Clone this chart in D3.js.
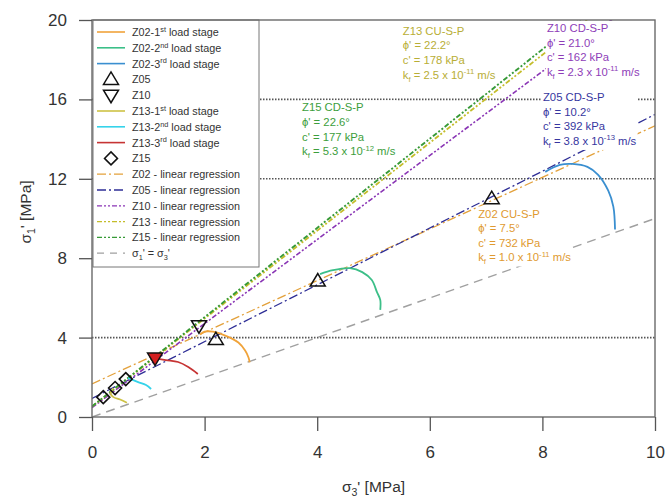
<!DOCTYPE html>
<html>
<head>
<meta charset="utf-8">
<script src="https://cdn.jsdelivr.net/npm/d3@7"></script>
<style>
  body { margin: 0; background: #fff; }
  text { font-family: Arial, "Liberation Sans", sans-serif; }
</style>
</head>
<body>
<script>
var xTicks = [0, 2, 4, 6, 8, 10];
var yTicks = [0, 4, 8, 12, 16, 20];
var gridY = [4, 12, 16];

// stress paths, [sigma3', sigma1'] in MPa
var z02Stage1 = [[1.92, 4.15], [2.0, 4.3], [2.15, 4.3], [2.3, 4.18], [2.45, 4.0], [2.6, 3.75], [2.72, 3.35], [2.78, 3.0], [2.8, 2.75]];
var z02Stage2 = [[4.05, 7.2], [4.28, 7.4], [4.58, 7.5], [4.8, 7.3], [4.97, 6.9], [5.06, 6.3], [5.12, 5.9], [5.12, 5.4]];
var z02Stage3 = [[8.05, 12.35], [8.31, 12.7], [8.53, 12.75], [8.8, 12.6], [8.99, 12.2], [9.17, 11.4], [9.26, 10.6], [9.29, 9.45]];
var z13Stage1 = [[0.38, 1.45], [0.33, 1.2], [0.38, 1.0], [0.5, 0.88], [0.62, 0.72]];
var z13Stage2 = [[0.64, 1.96], [0.82, 1.76], [0.96, 1.61], [1.05, 1.41]];
var z13Stage3 = [[1.12, 2.97], [1.31, 2.87], [1.53, 2.77], [1.71, 2.52], [1.88, 2.17]];

var z05Points = [[2.2, 3.9], [4.01, 6.85], [7.1, 11.0]];
var z10Points = [[1.12, 2.97], [1.9, 4.6]];
var z15Points = [[0.2, 1.0], [0.41, 1.46], [0.6, 1.91]];

// Mohr-Coulomb fits
var fitNames = ["Z02", "Z05", "Z10", "Z13", "Z15"];
var fitTest = ["CU-S-P", "CD-S-P", "CD-S-P", "CU-S-P", "CD-S-P"];
var fitPhi = [7.5, 10.2, 21.0, 22.2, 22.6];
var fitC = [732, 392, 162, 178, 177];
var fitK = ["1.0", "3.8", "2.3", "2.5", "5.3"];
var fitKExp = ["-11", "-13", "-11", "-11", "-12"];

function init() {
  var w = 667, h = 498;
  var fitColor = ["#e3a13b", "#2e2e96", "#8a35b5", "#c4bd2a", "#379a37"];
  var fitText = ["#e09a30", "#3636a0", "#8e3db8", "#b8ae35", "#3c9e3c"];
  var fitDash = ["9,3,2,3", "9,3,2,3", "5,2,2,2,2,2", "5,2,2,2,2,2", "5,2,2,2,2,2"];
  var fitWidth = [1.3, 1.3, 1.6, 1.8, 1.9];
  // label anchor (sigma3, sigma1 of first baseline)
  var labelAt = [[6.86, 10.05], [8.01, 15.92], [8.08, 19.4], [5.52, 19.25], [3.73, 15.4]];

  var xScale = d3.scaleLinear().domain([0, 10]).range([92, 655]);
  var yScale = d3.scaleLinear().domain([0, 20]).range([417, 20]);

  var svg = d3.select("body").append("svg")
    .attr("width", w)
    .attr("height", h);

  svg.append("clipPath").attr("id", "plot")
    .append("rect")
    .attr("x", xScale(0)).attr("y", yScale(20))
    .attr("width", xScale(10) - xScale(0))
    .attr("height", yScale(0) - yScale(20));

  var plot = svg.append("g").attr("clip-path", "url(#plot)");

  // dotted grid lines
  plot.selectAll("line.grid")
    .data(gridY)
    .enter()
    .append("line")
    .attr("class", "grid")
    .attr("x1", xScale(0)).attr("x2", xScale(10))
    .attr("y1", function(d) { return yScale(d); })
    .attr("y2", function(d) { return yScale(d); })
    .attr("stroke", "#555")
    .attr("stroke-width", 1.6)
    .attr("stroke-dasharray", "1.5,1.5");

  // sigma1 = sigma3
  plot.append("line")
    .attr("x1", xScale(0)).attr("y1", yScale(0))
    .attr("x2", xScale(10)).attr("y2", yScale(10))
    .attr("stroke", "#a0a0a0")
    .attr("stroke-width", 1.4)
    .attr("stroke-dasharray", "9,6");

  // regression lines
  fitNames.forEach(function(n, i) {
    var s = Math.sin(fitPhi[i] * Math.PI / 180);
    var co = Math.cos(fitPhi[i] * Math.PI / 180);
    var slope = (1 + s) / (1 - s);
    var icpt = 2 * fitC[i] / 1000 * co / (1 - s);
    plot.append("line")
      .attr("x1", xScale(0)).attr("y1", yScale(icpt))
      .attr("x2", xScale(10)).attr("y2", yScale(icpt + slope * 10))
      .attr("stroke", fitColor[i])
      .attr("stroke-width", fitWidth[i])
      .attr("stroke-dasharray", fitDash[i]);
  });

  var line = d3.line()
    .curve(d3.curveCatmullRom)
    .x(function(d) { return xScale(d[0]); })
    .y(function(d) { return yScale(d[1]); });

  var stages = [
    { d: z02Stage1, c: "#f0a33a" },
    { d: z02Stage2, c: "#3cbf88" },
    { d: z02Stage3, c: "#3a8fd0" },
    { d: z13Stage1, c: "#cdc245" },
    { d: z13Stage2, c: "#35d3ea" },
    { d: z13Stage3, c: "#c63434" }
  ];
  stages.forEach(function(st) {
    plot.append("path")
      .attr("d", line(st.d))
      .attr("fill", "none")
      .attr("stroke", st.c)
      .attr("stroke-width", 1.8);
  });

  function triUp(cx, cy) {
    return "M" + (cx - 7.5) + "," + (cy + 5) + "L" + (cx + 7.5) + "," + (cy + 5) + "L" + cx + "," + (cy - 7.5) + "Z";
  }
  function triDown(cx, cy) {
    return "M" + (cx - 7.5) + "," + (cy - 5) + "L" + (cx + 7.5) + "," + (cy - 5) + "L" + cx + "," + (cy + 7.5) + "Z";
  }
  function diamond(cx, cy) {
    return "M" + cx + "," + (cy - 6.5) + "L" + (cx + 6.5) + "," + cy + "L" + cx + "," + (cy + 6.5) + "L" + (cx - 6.5) + "," + cy + "Z";
  }

  plot.selectAll("path.z05")
    .data(z05Points).enter().append("path")
    .attr("d", function(d) { return triUp(xScale(d[0]), yScale(d[1])); })
    .attr("fill", "none").attr("stroke", "#111").attr("stroke-width", 1.5);

  plot.selectAll("path.z10")
    .data(z10Points).enter().append("path")
    .attr("d", function(d) { return triDown(xScale(d[0]), yScale(d[1])); })
    .attr("fill", function(d) {
      // red stage 3 path starts on this point
      return (d[0] === z13Stage3[0][0] && d[1] === z13Stage3[0][1]) ? "#d42020" : "none";
    })
    .attr("stroke", "#111").attr("stroke-width", 1.5);

  plot.selectAll("path.z15")
    .data(z15Points).enter().append("path")
    .attr("d", function(d) { return diamond(xScale(d[0]), yScale(d[1])); })
    .attr("fill", "none").attr("stroke", "#111").attr("stroke-width", 1.6);

  // rich text helper: parts = [[string, "sup"|"sub"|""]]
  function rich(t, parts, fs) {
    var prev = "";
    parts.forEach(function(p) {
      var ts = t.append("tspan").text(p[0]);
      var dy = 0;
      if (p[1] === "sup") { dy = (prev === "sup" ? 0 : -0.38 * fs); ts.attr("font-size", fs * 0.68); }
      else if (p[1] === "sub") { dy = (prev === "sub" ? 0 : 0.28 * fs); ts.attr("font-size", fs * 0.68); }
      if (prev === "sup" && p[1] !== "sup") dy += 0.38 * fs;
      if (prev === "sub" && p[1] !== "sub") dy -= 0.28 * fs;
      if (dy) ts.attr("dy", dy);
      prev = p[1];
    });
  }

  // fit labels
  var lh = 14.6, lfs = 11.3;
  fitNames.forEach(function(n, i) {
    var g = svg.append("g");
    var x0 = xScale(labelAt[i][0]), y0 = yScale(labelAt[i][1]);
    var rows = [
      [[n + " " + fitTest[i], ""]],
      [["\u03d5' = " + fitPhi[i].toFixed(1) + "\u00b0", ""]],
      [["c' = " + fitC[i] + " kPa", ""]],
      [["k", ""], ["f", "sub"], [" = " + fitK[i] + " x 10", ""], [fitKExp[i], "sup"], [" m/s", ""]]
    ];
    var bg = g.append("rect").attr("fill", "#fff");
    var tg = g.append("g");
    rows.forEach(function(r, j) {
      var t = tg.append("text")
        .attr("x", x0).attr("y", y0 + j * lh)
        .attr("font-size", lfs)
        .attr("fill", fitText[i]);
      rich(t, r, lfs);
    });
    var bb = tg.node().getBBox();
    bg.attr("x", bb.x - 1).attr("y", bb.y - 1)
      .attr("width", bb.width + 2).attr("height", bb.height + 1);
  });

  // legend
  var lx = 93, ly = 20, rowH = 15.8, fs = 10.8;
  svg.append("rect")
    .attr("x", lx).attr("y", ly)
    .attr("width", 166).attr("height", 247)
    .attr("fill", "#fff").attr("stroke", "#777").attr("stroke-width", 1);

  var legend = [
    { t: [["Z02-1", ""], ["st", "sup"], [" load stage", ""]], k: "line", c: "#f0a33a" },
    { t: [["Z02-2", ""], ["nd", "sup"], [" load stage", ""]], k: "line", c: "#3cbf88" },
    { t: [["Z02-3", ""], ["rd", "sup"], [" load stage", ""]], k: "line", c: "#3a8fd0" },
    { t: [["Z05", ""]], k: "up" },
    { t: [["Z10", ""]], k: "down" },
    { t: [["Z13-1", ""], ["st", "sup"], [" load stage", ""]], k: "line", c: "#cdc245" },
    { t: [["Z13-2", ""], ["nd", "sup"], [" load stage", ""]], k: "line", c: "#35d3ea" },
    { t: [["Z13-3", ""], ["rd", "sup"], [" load stage", ""]], k: "line", c: "#c63434" },
    { t: [["Z15", ""]], k: "dia" }
  ];
  fitNames.forEach(function(n, i) {
    legend.push({ t: [[n + " - linear regression", ""]], k: "fit", i: i });
  });
  legend.push({ t: [["\u03c3", ""], ["1", "sub"], ["' = \u03c3", ""], ["3", "sub"], ["'", ""]], k: "eq" });

  legend.forEach(function(e, i) {
    var cy = ly + 12 + i * rowH;
    if (e.k === "line") {
      svg.append("line").attr("x1", 97).attr("x2", 125).attr("y1", cy).attr("y2", cy)
        .attr("stroke", e.c).attr("stroke-width", 1.6);
    } else if (e.k === "fit") {
      svg.append("line").attr("x1", 97).attr("x2", 125).attr("y1", cy).attr("y2", cy)
        .attr("stroke", fitColor[e.i]).attr("stroke-width", 1.3)
        .attr("stroke-dasharray", fitDash[e.i]);
    } else if (e.k === "eq") {
      svg.append("line").attr("x1", 97).attr("x2", 125).attr("y1", cy).attr("y2", cy)
        .attr("stroke", "#a0a0a0").attr("stroke-width", 1.3).attr("stroke-dasharray", "7,6");
    } else {
      var p = e.k === "up" ? triUp(111, cy) : (e.k === "down" ? triDown(111, cy) : diamond(111, cy));
      svg.append("path").attr("d", p).attr("fill", "none").attr("stroke", "#111").attr("stroke-width", 1.5);
    }
    var t = svg.append("text").attr("x", 132).attr("y", cy + 4)
      .attr("font-size", fs).attr("fill", "#333");
    rich(t, e.t, fs);
  });

  // frame
  svg.append("rect")
    .attr("x", xScale(0)).attr("y", yScale(20))
    .attr("width", xScale(10) - xScale(0))
    .attr("height", yScale(0) - yScale(20))
    .attr("fill", "none").attr("stroke", "#6a6a6a").attr("stroke-width", 1.4);

  // axes
  var xMinor = d3.range(0, 26).map(function(i) { return i * 0.4; });
  var yMinor = d3.range(0, 26).map(function(i) { return i * 0.8; });

  var gx = svg.append("g").attr("transform", "translate(0," + yScale(0) + ")");
  gx.call(d3.axisBottom(xScale).tickValues(xMinor).tickSize(6).tickFormat(""));
  gx.call(d3.axisBottom(xScale).tickValues(xTicks).tickSize(14).tickPadding(15).tickFormat(d3.format("d")));
  gx.selectAll(".domain").remove();

  var gy = svg.append("g").attr("transform", "translate(" + xScale(0) + ",0)");
  gy.call(d3.axisLeft(yScale).tickValues(yMinor).tickSize(6).tickFormat(""));
  gy.call(d3.axisLeft(yScale).tickValues(yTicks).tickSize(13).tickPadding(12).tickFormat(d3.format("d")));
  gy.selectAll(".domain").remove();

  svg.selectAll(".tick line").attr("stroke", "#555").attr("stroke-width", 1.3);
  svg.selectAll(".tick text")
    .attr("font-family", "Arial, 'Liberation Sans', sans-serif")
    .attr("font-size", 17).attr("fill", "#333");

  // axis titles
  var xt = svg.append("text")
    .attr("x", (xScale(0) + xScale(10)) / 2).attr("y", 492)
    .attr("text-anchor", "middle").attr("font-size", 15.5).attr("fill", "#333");
  rich(xt, [["\u03c3", ""], ["3", "sub"], ["' [MPa]", ""]], 15.5);

  var yt = svg.append("text")
    .attr("transform", "translate(31,212) rotate(-90)")
    .attr("text-anchor", "middle").attr("font-size", 15.5).attr("fill", "#333");
  rich(yt, [["\u03c3", ""], ["1", "sub"], ["' [MPa]", ""]], 15.5);
}

window.onload = init;
</script>
</body>
</html>
